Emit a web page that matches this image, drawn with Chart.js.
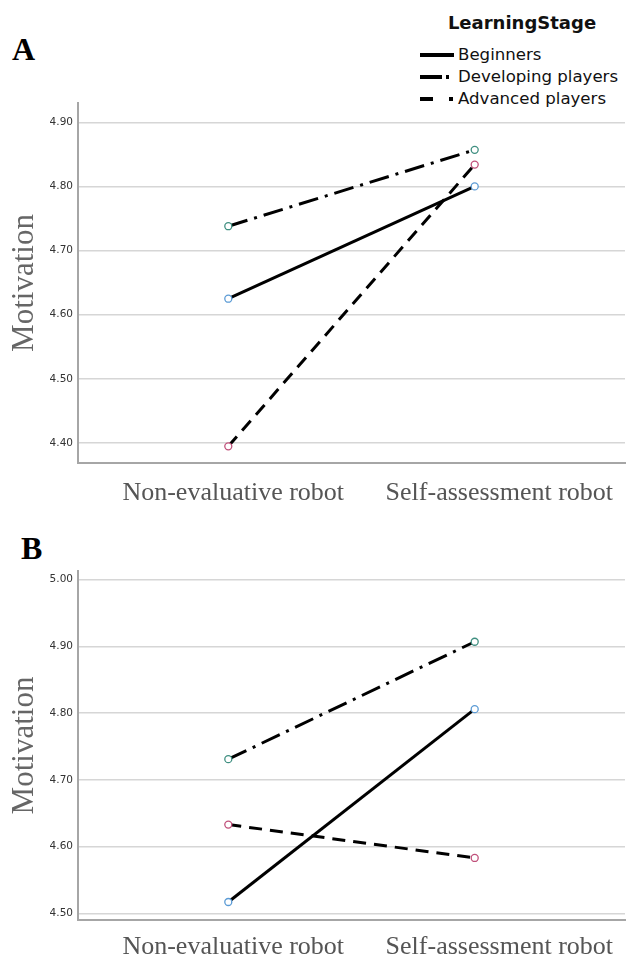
<!DOCTYPE html>
<html>
<head>
<meta charset="utf-8">
<script src="https://cdn.jsdelivr.net/npm/chart.js@4.4.0/dist/chart.umd.min.js"></script>
<style>
  body { margin: 0; width: 635px; height: 958px; background: #fff; position: relative; overflow: hidden; }
  canvas { position: absolute; left: 0; }
  .tag { position: absolute; font-family: "Liberation Serif", serif; font-weight: bold; font-size: 32px; color: #000; line-height: 32px; }
  #legendTitle { position: absolute; left: 420px; width: 204px; top: 12px; text-align: center;
    font-family: "DejaVu Sans", sans-serif; font-weight: bold; font-size: 18px; line-height: 22px; color: #111; }
  #legendItems { position: absolute; left: 420px; top: 44px; font-family: "DejaVu Sans", sans-serif; font-size: 16.6px; color: #111; }
  .row { height: 22px; line-height: 22px; display: flex; align-items: center; white-space: nowrap; }
  .row svg { margin-right: 4px; }
</style>
</head>
<body>
<div class="tag" style="left:12px; top:33px;">A</div>
<div class="tag" style="left:21px; top:532px;">B</div>
<div id="legendTitle">LearningStage</div>
<div id="legendItems"></div>
<canvas id="chartA" width="635" height="520" style="top:0px;"></canvas>
<canvas id="chartB" width="635" height="438" style="top:520px;"></canvas>
<script>
// categories and series
const categories = ['Non-evaluative robot', 'Self-assessment robot'];
const seriesNames = ['Beginners', 'Developing players', 'Advanced players'];

// panel A
const beginnersA = [4.625, 4.800];
const developingA = [4.738, 4.857];
const advancedA = [4.395, 4.834];
const yTicksA = [4.40, 4.50, 4.60, 4.70, 4.80, 4.90];

// panel B
const beginnersB = [4.517, 4.806];
const developingB = [4.731, 4.907];
const advancedB = [4.633, 4.583];
const yTicksB = [4.50, 4.60, 4.70, 4.80, 4.90, 5.00];

// line styles per learning stage
const lineDash = [[], [20, 7, 3, 7], [13, 8]];
const legendDash = [[], [22, 4, 3, 20], [13, 16, 4, 10]];
const markerColor = ['#5b9bd5', '#3f8f80', '#c0507a'];
const labelShift = [0.02, 0.1];

function buildDatasets(seriesValues) {
  return seriesValues.map(function (vals, s) {
    return {
      label: seriesNames[s],
      data: vals.map(function (v, i) { return { x: i + 1, y: v }; }),
      borderColor: '#000',
      borderWidth: 3,
      borderDash: lineDash[s],
      pointRadius: 3.5,
      pointBorderWidth: 1.3,
      pointBorderColor: markerColor[s],
      pointBackgroundColor: '#fff',
      pointHoverRadius: 3.5,
      tension: 0
    };
  });
}

function makeChart(id, seriesValues, yTicks, yMin, yMax, padTop, xHeight, xPad) {
  return new Chart(document.getElementById(id), {
    type: 'line',
    data: { datasets: buildDatasets(seriesValues) },
    options: {
      responsive: false,
      animation: false,
      devicePixelRatio: 1,
      layout: { padding: { top: padTop, left: 0, right: 10, bottom: 0 } },
      plugins: { legend: { display: false }, tooltip: { enabled: false } },
      scales: {
        x: {
          type: 'linear',
          min: 0.39,
          max: 2.61,
          grid: { display: false, drawTicks: false },
          border: { display: true, color: '#a6a6a6', width: 2 },
          afterBuildTicks: function (scale) {
            scale.ticks = categories.map(function (c, i) { return { value: i + 1 + labelShift[i] }; });
          },
          afterFit: function (scale) { scale.height = xHeight; },
          ticks: {
            autoSkip: false,
            maxRotation: 0,
            padding: xPad,
            color: '#555',
            font: { family: 'Liberation Serif', size: 26 },
            callback: function (v, idx) { return categories[idx]; }
          }
        },
        y: {
          min: yMin,
          max: yMax,
          grid: { color: '#d6d6d6', lineWidth: 1.5, drawTicks: false },
          border: { display: true, color: '#a6a6a6', width: 2 },
          afterBuildTicks: function (scale) {
            scale.ticks = yTicks.map(function (v) { return { value: v }; });
          },
          afterFit: function (scale) { scale.width = 78; },
          ticks: {
            padding: 5,
            color: '#333',
            font: { family: 'DejaVu Sans', size: 10.5 },
            callback: function (v) { return Number(v).toFixed(2); }
          },
          title: {
            display: true,
            text: 'Motivation',
            color: '#666',
            padding: { top: 6, bottom: 0 },
            font: { family: 'Liberation Serif', size: 31 }
          }
        }
      }
    }
  });
}

makeChart('chartA', [beginnersA, developingA, advancedA], yTicksA, 4.369, 4.930, 103, 57, 15);
makeChart('chartB', [beginnersB, developingB, advancedB], yTicksB, 4.490, 5.013, 51, 38, 12);

// legend with line samples
const legend = document.getElementById('legendItems');
seriesNames.forEach(function (name, s) {
  const row = document.createElement('div');
  row.className = 'row';
  const dash = legendDash[s].length ? legendDash[s].join(' ') : 'none';
  row.innerHTML = '<svg width="34" height="8"><line x1="0" y1="4" x2="34" y2="4" stroke="#000" stroke-width="4" stroke-dasharray="' + dash + '"/></svg><span>' + name + '</span>';
  legend.appendChild(row);
});
</script>
</body>
</html>
